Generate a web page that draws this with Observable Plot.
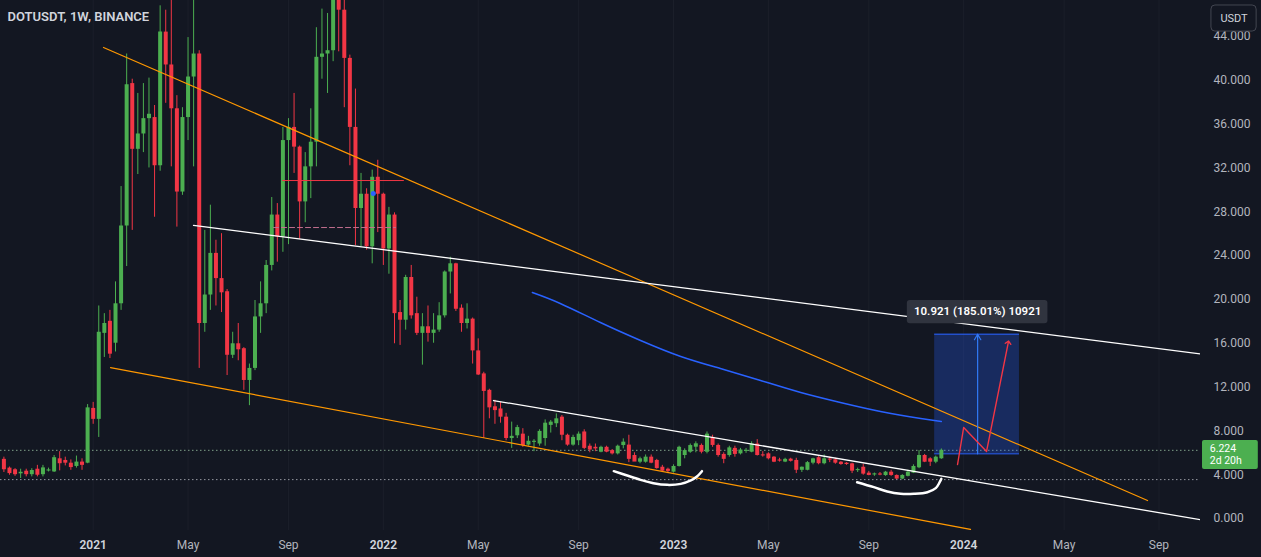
<!DOCTYPE html>
<html><head><meta charset="utf-8">
<script src="https://cdn.jsdelivr.net/npm/d3@7"></script>
<script src="https://cdn.jsdelivr.net/npm/@observablehq/plot@0.6"></script>
<style>html,body{margin:0;padding:0;background:#131722;} #chart svg{display:block}</style>
</head><body><div id="chart"></div>
<script>
// ---- weekly bars (Monday opens), DOTUSDT 1W ----
const firstBar = Date.UTC(2020, 8, 14);
const WEEK = 7 * 864e5;
const at = i => new Date(firstBar + i * WEEK);          // bar index -> date
const barDates = d3.utcMonday.range(new Date(firstBar), new Date(Date.UTC(2023, 11, 5)));

const open = [5.40,4.60,4.45,4.08,4.32,4.00,4.50,4.00,4.35,4.25,
5.45,5.30,5.05,4.75,5.15,5.05,10.05,9.05,16.90,18.00,
16.00,19.60,26.70,39.70,33.70,35.10,36.50,36.60,32.20,44.40,
41.40,37.40,29.80,36.60,40.30,42.40,17.80,20.40,24.20,21.90,
20.70,14.90,15.95,15.50,12.60,13.70,18.40,19.60,23.10,27.70,
25.70,34.50,35.70,33.90,28.90,32.10,34.35,42.10,42.40,42.70,
50.50,46.40,42.00,35.70,28.30,29.60,24.80,31.15,29.60,24.60,
27.70,18.80,18.10,22.00,18.70,16.90,17.50,16.90,17.20,18.50,
22.50,23.25,19.20,17.80,18.20,15.30,13.20,11.70,10.20,10.00,
9.25,7.30,7.55,7.70,6.70,6.95,6.80,7.30,8.50,8.65,
9.25,7.60,6.70,7.10,7.90,6.60,6.50,6.05,6.50,6.20,
5.90,6.66,6.70,5.75,5.14,5.14,5.60,5.30,4.68,4.50,
4.23,4.75,5.75,6.05,6.51,6.67,6.05,7.40,6.67,5.85,
5.75,6.40,5.90,6.15,6.05,6.80,5.80,5.90,5.60,5.32,
5.15,5.42,5.30,4.40,4.40,5.05,5.55,5.00,5.40,5.36,
5.14,5.05,4.99,4.40,4.68,4.14,4.00,4.05,3.92,4.23,
3.93,3.60,3.85,4.14,4.63,5.75,5.45,5.14,5.45];
const high = [5.60,4.70,4.55,4.50,4.50,4.55,4.85,4.85,4.60,5.75,
6.10,5.60,5.35,5.70,5.45,10.40,10.60,19.40,18.70,19.00,
21.60,30.30,42.40,40.10,38.80,39.70,40.20,37.70,46.80,46.40,
48.20,38.60,37.50,43.90,49.80,42.70,26.30,28.60,25.40,26.00,
20.90,17.00,17.80,15.60,14.10,19.90,21.60,23.55,29.30,28.75,
35.70,36.50,38.80,34.00,33.40,37.40,44.80,46.50,46.10,50.80,
55.00,47.80,42.30,39.20,31.50,30.10,31.80,32.70,29.70,28.40,
27.90,19.90,22.20,23.10,20.20,18.70,19.40,18.70,19.70,22.60,
23.85,23.30,19.50,19.60,18.30,16.40,13.35,11.80,10.80,10.60,
9.60,8.80,8.50,8.20,7.50,7.20,8.10,9.00,8.95,9.55,
9.40,7.70,7.60,7.90,8.10,6.80,6.80,6.60,6.60,6.30,
6.70,7.27,7.60,6.00,5.60,5.80,5.80,5.40,4.85,4.60,
4.90,6.60,6.36,6.80,7.00,6.80,7.90,7.60,6.80,6.00,
6.60,6.60,6.40,6.40,7.00,7.20,6.10,6.00,5.65,5.50,
5.50,5.50,5.50,4.70,5.20,5.50,5.65,5.80,5.60,5.50,
5.20,5.10,5.05,4.60,4.95,4.30,4.15,4.20,4.30,4.40,
3.98,4.00,4.40,4.90,6.20,5.85,5.55,5.70,6.35];
const low = [4.20,3.95,3.85,3.65,3.80,3.80,3.80,3.80,4.25,4.20,
4.35,4.80,4.40,4.60,4.40,5.00,8.60,7.40,14.70,14.60,
15.20,19.00,23.00,26.30,31.40,33.40,32.00,27.50,31.70,37.90,
32.10,26.60,29.50,34.50,32.10,13.70,17.00,19.00,19.40,18.80,
13.05,14.60,14.40,11.70,10.30,13.50,16.90,18.70,22.60,23.40,
24.30,25.00,31.50,25.50,27.00,29.20,32.10,40.10,38.80,41.70,
42.60,37.50,32.20,24.90,24.80,24.50,23.25,26.10,23.10,22.30,
15.95,15.80,17.20,18.20,16.70,14.00,16.10,16.00,17.00,18.30,
20.50,18.90,17.00,17.30,14.10,13.05,7.30,9.10,8.60,8.70,
7.10,6.40,7.30,6.50,6.60,6.10,6.60,6.60,7.80,8.30,
7.10,6.60,6.60,6.65,6.30,6.00,6.10,6.00,6.00,5.80,
5.80,6.36,5.10,5.20,5.00,5.05,5.00,4.50,4.30,4.10,
4.15,4.70,5.45,5.95,6.00,5.90,5.90,6.50,5.60,5.00,
5.60,5.60,5.80,5.95,6.00,5.70,5.60,5.35,5.10,5.15,
5.10,5.15,4.10,4.20,4.35,4.90,4.90,4.90,5.10,4.95,
4.85,4.85,4.10,4.20,3.95,3.90,3.85,3.90,3.85,3.85,
3.55,3.55,3.80,4.10,4.55,5.10,4.75,5.00,5.40];
const close = [4.45,4.10,4.00,4.22,4.00,4.38,3.95,4.62,4.42,5.55,
5.00,5.05,4.65,5.15,4.85,10.10,9.05,17.00,17.80,15.00,
19.60,26.70,39.60,33.70,35.10,36.50,36.90,32.20,44.40,41.40,
37.40,29.80,36.60,40.30,42.40,17.80,20.40,24.20,21.90,20.60,
14.90,15.95,15.40,12.60,13.70,18.40,19.60,23.10,27.70,25.70,
34.50,35.70,33.90,28.90,32.10,34.35,42.10,42.40,42.70,50.50,
46.40,42.00,35.70,28.30,29.60,24.80,31.15,29.60,24.60,27.70,
18.70,18.10,22.00,18.50,16.90,17.50,16.90,17.20,18.50,22.50,
23.25,19.10,17.80,18.20,15.30,13.10,11.60,10.10,9.85,9.25,
7.30,7.50,8.30,6.65,7.05,7.05,7.95,8.70,8.80,9.10,
7.60,6.70,7.40,7.70,6.40,6.25,6.35,6.50,6.05,5.90,
6.60,6.97,5.40,5.15,5.45,5.60,5.05,4.56,4.32,4.30,
4.75,6.50,6.20,6.66,6.82,6.05,7.70,6.67,5.75,5.40,
6.45,5.85,6.25,6.20,6.80,5.75,5.72,5.45,5.14,5.26,
5.40,5.22,4.40,4.68,5.10,5.45,5.00,5.45,5.36,5.05,
4.93,4.93,4.32,4.44,4.05,3.93,4.05,3.98,4.23,3.93,
3.60,3.93,4.23,4.75,5.75,5.14,5.14,5.60,6.224];

// moving average, bar index / value
const maIdx = [94.7, 99.7, 106.9, 114.1, 121.3, 128.4, 135.6, 142.8, 149.9, 157.1, 164.3, 168];
const maVal = [20.63, 19.63, 17.89, 16.25, 14.79, 13.69, 12.60, 11.50, 10.59, 9.77, 9.13, 8.86];

// drawings: [bar index, price]
const orangeUpper = [[17.85, 43.0], [204.95, 1.64]];
const orangeLower = [[19.10, 13.78], [173.23, -1.0]];
const whiteUpper  = [[33.98, 26.75], [215.34, 14.97]];
const whiteLower  = [[87.74, 10.77], [215.34, -0.18]];
const redLevel    = [[49.93, 30.85], [71.6, 30.85]];
const pinkLevel   = [[48.32, 26.56], [70.18, 26.56]];
const arc1 = [[109.3,4.32],[111.7,3.92],[114.1,3.53],[116.4,3.22],[118.9,3.07],[121.3,3.16],[123.1,3.47],[124.2,3.83],[125.1,4.32]];
const arc2 = [[152.9,3.31],[155.9,2.86],[158.3,2.46],[160.7,2.25],[163.1,2.25],[165.5,2.40],[167.0,2.77],[167.7,3.31],[168.0,3.62]];
const zigzag = [[170.9, 4.93], [172.0, 8.31], [176.1, 6.12], [180.0, 16.07]];
const measureLow = 5.903, measureHigh = 16.824;
const measureBars = [166.8, 182.0], measureMid = 174.5;
const measureText = "10.921 (185.01%) 10921";
const lastPrice = 6.224, rangeLow = 3.55, countdown = "2d 20h";

// axes
const yTicks = [0, 4, 8, 12, 16, 20, 24, 28, 32, 36, 40, 44];
const yearTicks = ["2021-01-04", "2022-01-03", "2023-01-02", "2024-01-01"];
const monthTicks = ["2021-05-03", "2021-09-06", "2022-05-02", "2022-09-05", "2023-05-01", "2023-09-04", "2024-05-06", "2024-09-02"];

// ---- build ----
const green = "#4caf50", red = "#f23645";
const candles = barDates.map((date, i) => ({date, open: open[i], high: high[i], low: low[i], close: close[i]}));
const col = d => d.close >= d.open ? green : red;
const pad = d => Math.max(0, (0.1 - Math.abs(d.close - d.open)) / 2);
const pts = arr => arr.map(([i, v]) => ({x: at(i), y: v}));
const ma = maIdx.map((i, k) => ({x: at(i), y: maVal[k]}));
const yd = s => new Date(s + "T00:00:00Z");

const chart = Plot.plot({
  width: 1261, height: 557,
  marginLeft: 0, marginRight: 61, marginTop: 0, marginBottom: 27,
  style: {background: "#131722", color: "#b2b5be", fontFamily: "Roboto, sans-serif", fontSize: "12px"},
  x: {type: "utc", domain: [at(-0.6093), at(214.44)]},
  y: {domain: [-1.095, 47.285]},
  color: {type: "identity"},
  marks: [
    Plot.gridX([...yearTicks, ...monthTicks].map(yd), {stroke: "#2a2e39", strokeOpacity: 0.35}),
    Plot.ruleY([lastPrice], {stroke: "#7fa088", strokeDasharray: "1.5,2.5"}),
    Plot.ruleY([rangeLow], {stroke: "#9598a1", strokeDasharray: "1.5,2.5"}),
    Plot.rect([{x1: at(measureBars[0]), x2: at(measureBars[1]), y1: measureLow, y2: measureHigh}],
      {x1: "x1", x2: "x2", y1: "y1", y2: "y2", fill: "#2962ff", fillOpacity: 0.28}),
    Plot.ruleY([measureLow, measureHigh].map(y => ({y, x1: at(measureBars[0]), x2: at(measureBars[1])})),
      {y: "y", x1: "x1", x2: "x2", stroke: "#2962ff", strokeWidth: 1}),
    // candles
    Plot.ruleX(candles, {x: "date", y1: "low", y2: "high", stroke: col, strokeWidth: 1, clip: true}),
    Plot.ruleX(candles, {x: "date", y1: d => Math.min(d.open, d.close) - pad(d), y2: d => Math.max(d.open, d.close) + pad(d),
      stroke: col, strokeWidth: 4, clip: true}),
    // drawings
    Plot.line(pts(redLevel), {x: "x", y: "y", stroke: "#f23645", strokeWidth: 1, clip: true}),
    Plot.line(pts(pinkLevel), {x: "x", y: "y", stroke: "#c4708f", strokeWidth: 1, strokeDasharray: "5,3", clip: true}),
    Plot.dot([{x: at(66.2), y: 29.67}], {x: "x", y: "y", r: 2.5, fill: "#2962ff"}),
    Plot.line(pts(orangeUpper), {x: "x", y: "y", stroke: "#ff9800", strokeWidth: 1.2, clip: true}),
    Plot.line(pts(orangeLower), {x: "x", y: "y", stroke: "#ff9800", strokeWidth: 1.2, clip: true}),
    Plot.line(pts(whiteUpper), {x: "x", y: "y", stroke: "#ffffff", strokeWidth: 1.3, clip: true}),
    Plot.line(pts(whiteLower), {x: "x", y: "y", stroke: "#ffffff", strokeWidth: 1.3, clip: true}),
    Plot.line(ma, {x: "x", y: "y", stroke: "#2962ff", strokeWidth: 1.5, curve: "natural", clip: true}),
    Plot.line(pts(arc1), {x: "x", y: "y", stroke: "#ffffff", strokeWidth: 2.5, curve: "catmull-rom", clip: true}),
    Plot.line(pts(arc2), {x: "x", y: "y", stroke: "#ffffff", strokeWidth: 2.5, curve: "catmull-rom", clip: true}),
    Plot.arrow([{x: at(measureMid), y1: measureLow, y2: measureHigh}],
      {x1: "x", x2: "x", y1: "y1", y2: "y2", stroke: "#3179f5", strokeWidth: 1.2, headLength: 8, bend: 0}),
    Plot.line(pts(zigzag), {x: "x", y: "y", stroke: "#f23645", strokeWidth: 1.4, markerEnd: "arrow"}),
    Plot.rect([{x1: at(161.9), x2: at(187.1), y1: 17.77, y2: 19.9}],
      {x1: "x1", x2: "x2", y1: "y1", y2: "y2", fill: "#30343f", rx: 3}),
    Plot.text([{x: at(measureMid), y: 18.88, t: measureText}],
      {x: "x", y: "y", text: "t", fill: "#ffffff", fontSize: 11.5, fontWeight: 600}),
    // axes
    Plot.axisY(yTicks, {anchor: "right", tickSize: 0, tickPadding: 13, tickFormat: d => d.toFixed(3), fontSize: 12}),
    Plot.axisX(monthTicks.map(yd), {anchor: "bottom", tickSize: 0, tickPadding: 10, tickFormat: d3.utcFormat("%b"), fontSize: 12}),
    Plot.axisX(yearTicks.map(yd), {anchor: "bottom", tickSize: 0, tickPadding: 10, tickFormat: d3.utcFormat("%Y"), fontSize: 12, fontWeight: 600, fill: "#d1d4dc"}),
    // last price tag
    Plot.rect([{x1: at(214.8), x2: at(224.8), y1: 4.47, y2: 7.12}],
      {x1: "x1", x2: "x2", y1: "y1", y2: "y2", fill: green, rx: 2}),
    Plot.text([{x: at(216.1), y: 6.39, t: lastPrice.toFixed(3)}, {x: at(216.1), y: 5.25, t: countdown}],
      {x: "x", y: "y", text: "t", textAnchor: "start", fill: "#ffffff", fontSize: 10.5}),
    // currency button
    Plot.rect([{x1: at(216.4), x2: at(224.5), y1: 44.45, y2: 46.83}],
      {x1: "x1", x2: "x2", y1: "y1", y2: "y2", fill: "#131722", stroke: "#434651", rx: 4}),
    Plot.text([{x: at(220.45), y: 45.64, t: "USDT"}], {x: "x", y: "y", text: "t", fill: "#d1d4dc", fontSize: 11}),
    // title
    Plot.text(["DOTUSDT, 1W, BINANCE"], {frameAnchor: "top-left", text: d => d, dx: 7, dy: 16, textAnchor: "start", lineAnchor: "middle",
      fill: "#d1d4dc", fontSize: 13, fontWeight: 600})
  ]
});
document.getElementById("chart").append(chart);
</script></body></html>
